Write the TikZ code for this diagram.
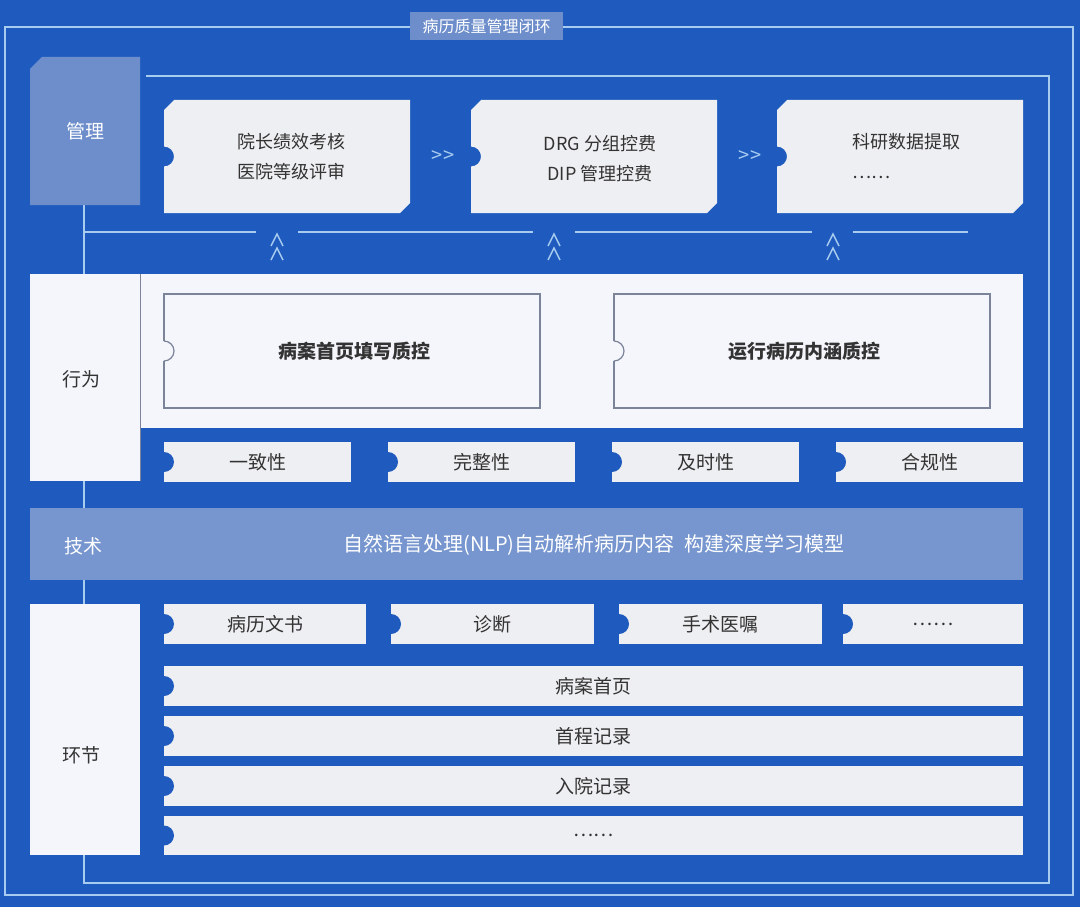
\documentclass[tikz,border=0pt]{standalone}
\usepackage{fontspec}
\usetikzlibrary{calc}
\setmainfont{Noto Sans CJK SC}
\definecolor{bg}{HTML}{1F5BBE}
\definecolor{ln}{HTML}{A8CCF0}
\definecolor{mg}{HTML}{6E8ECB}
\definecolor{tech}{HTML}{7796CF}
\definecolor{card}{HTML}{EEEFF2}
\definecolor{panel}{HTML}{F4F6FC}
\definecolor{txt}{HTML}{333333}
\definecolor{bord}{HTML}{7C849A}
\tikzset{
  lbl/.style={font=\fontsize{19}{22}\selectfont, text=txt, inner sep=0},
  wlbl/.style={font=\fontsize{19}{22}\selectfont, text=white, inner sep=0},
  guide/.style={draw=ln, line width=1.5pt},
}
% top card: x1 y1 x2 y2 name
\newcommand\topcard[5]{%
  \fill[card] ({#1+10},#2) -- (#3,#2) -- (#3,{#4-10}) -- ({#3-10},#4) -- (#1,#4)
    -- (#1,{(#2+#4)/2+10}) arc(90:-90:10) -- (#1,{#2+10}) -- cycle;
  \coordinate (#5) at ({(#1+#3)/2},{(#2+#4)/2});}
% tag with filled notch
\newcommand\tagbox[6]{%
  \fill[card] (#1,#2) rectangle (#3,#4);
  \fill[bg] (#1,{(#2+#4)/2}) circle (10);
  \node[lbl] (#5) at ({(#1+#3)/2},{(#2+#4)/2}) {#6};}
\begin{document}
\begin{tikzpicture}[x=1pt,y=-1pt]
\fill[bg] (0,0) rectangle (1080,907);
\useasboundingbox (0,0) rectangle (1080,907);
% outer loop
\draw[guide] (5,27) rectangle (1073,895);
\fill[mg] (410,12) rectangle (563,40);
\node[wlbl,font=\fontsize{16}{18}\selectfont] (title) at (486.5,26) {病历质量管理闭环};
% inner loop
\draw[guide] (146,76) -- (1049,76) -- (1049,883) -- (84,883) -- (84,205);
\draw[guide] (84,232) -- (256,232);
\draw[guide] (298,232) -- (533,232);
\draw[guide] (575,232) -- (812,232);
\draw[guide] (853,232) -- (968,232);
% management
\fill[mg] (42,57) -- (140,57) -- (140,205) -- (30,205) -- (30,69) -- cycle;
\node[wlbl] (mgmt) at (85,131) {管理};
\topcard{164}{100}{410}{213}{c1}
\topcard{471}{100}{717}{213}{c2}
\topcard{777}{100}{1023}{213}{c3}
\node[lbl,align=center,font=\fontsize{18}{30}\selectfont] (t1) at ($(c1)+(4,0)$) {院长绩效考核\\医院等级评审};
\node[lbl,align=center,font=\fontsize{18}{30}\selectfont] (t2) at ($(c2)+(6,2)$) {DRG 分组控费\\DIP 管理控费};
\node[lbl,align=left,font=\fontsize{18}{30}\selectfont] (t3) at ($(c3)+(6,0)$) {科研数据提取\\……};
\node[wlbl,text=ln,font=\fontsize{20}{20}\selectfont] (g1) at (443,157) {{>}{>}};
\node[wlbl,text=ln,font=\fontsize{20}{20}\selectfont] (g2) at (750,157) {{>}{>}};
\foreach \xx/\nm in {277/u1,554/u2,833/u3}{
  \draw[draw=ln,line width=1.5pt] (\xx-6,246) -- (\xx,234) -- (\xx+6,246);
  \draw[draw=ln,line width=1.5pt] (\xx-6,260) -- (\xx,248) -- (\xx+6,260);
  \coordinate (\nm) at (\xx,247);
}
% behaviour
\fill[panel] (30,274) rectangle (140,481);
\fill[panel] (140,274) rectangle (1023,428);
\draw[bord,line width=1pt] (140,274) -- (140,481);
\node[lbl] (beh) at (81,379) {行为};
\foreach \xa/\xb/\nm/\tx in {164/540/b1/病案首页填写质控,614/990/b2/运行病历内涵质控}{
  \draw[bord,line width=1.2pt,fill=panel] (\xa,294) rectangle (\xb,408);
  \fill[panel] (\xa-1,341) rectangle (\xa+1,361);
  \draw[bord,line width=1.2pt] (\xa,341) arc(-90:90:10);
  \node[lbl,font=\bfseries\fontsize{19}{22}\selectfont] (\nm) at ({(\xa+\xb)/2+2},351) {\tx};
}
\tagbox{164}{442}{351}{482}{k1}{一致性}
\tagbox{388}{442}{575}{482}{k2}{完整性}
\tagbox{612}{442}{799}{482}{k3}{及时性}
\tagbox{836}{442}{1023}{482}{k4}{合规性}
% technology
\fill[tech] (30,508) rectangle (1023,580);
\node[wlbl] (tec) at (83,546) {技术};
\node[wlbl,font=\fontsize{20}{22}\selectfont] (tect) at (594,545) {自然语言处理(NLP)自动解析病历内容\enspace 构建深度学习模型};
% links
\fill[panel] (30,604) rectangle (140,855);
\node[lbl] (seg) at (81,755) {环节};
\tagbox{164}{604}{366}{644}{r1}{病历文书}
\tagbox{391}{604}{594}{644}{r2}{诊断}
\tagbox{619}{604}{822}{644}{r3}{手术医嘱}
\tagbox{843}{604}{1023}{644}{r4}{……}
\tagbox{164}{666}{1023}{706}{s1}{病案首页}
\tagbox{164}{716}{1023}{756}{s2}{首程记录}
\tagbox{164}{766}{1023}{806}{s3}{入院记录}
\tagbox{164}{816}{1023}{855}{s4}{……}
\end{tikzpicture}
\end{document}
